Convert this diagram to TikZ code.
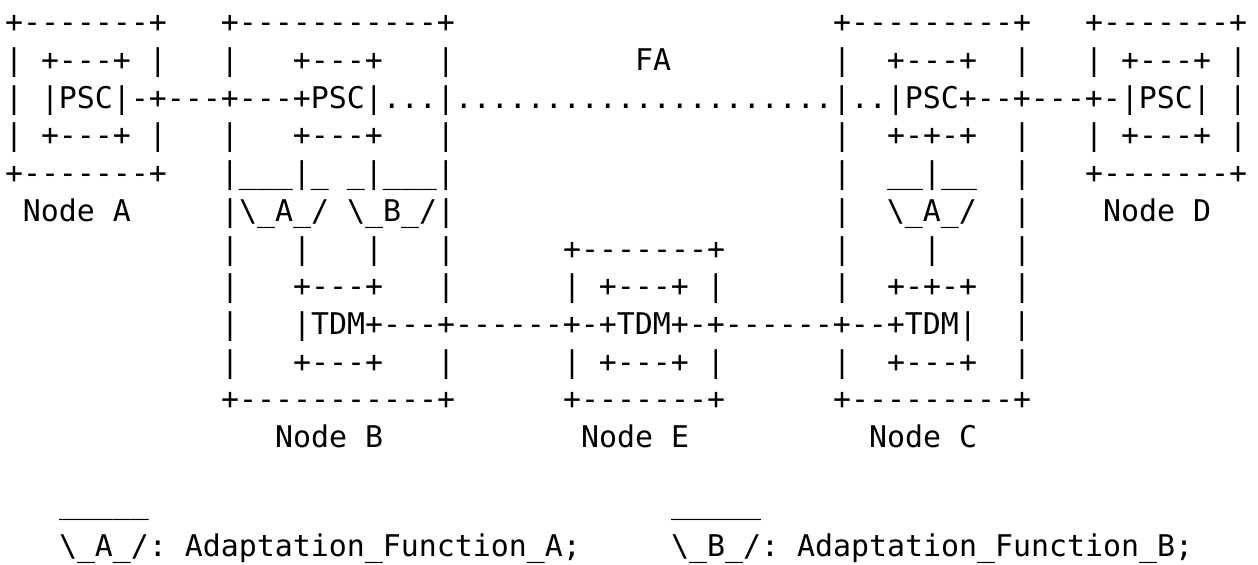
\documentclass[tikz,border=0pt]{standalone}
\usepackage{fontspec}
\setmonofont{DejaVu Sans Mono}
\newlength{\colw}
\setlength{\colw}{9pt}
\newcommand{\colgap}[1]{\hspace*{#1\colw}}
\newcommand{\bsl}{\textbackslash}
\frenchspacing

\begin{document}
\begin{tikzpicture}[x=\colw,y=-18.85pt,shift={(2.5pt,-16.4pt)},
                    asciirow/.style={anchor=base west,inner sep=0pt,outer sep=0pt,
                                     font=\ttfamily\fontsize{14.95pt}{18.85pt}\selectfont}]
  \path[use as bounding box] (-2.5pt,16.4pt) rectangle ++(629pt,-282pt);

  % boxes and links, one node per text row
  \node (row0) [asciirow] at (0,0) {+-------+\colgap{3}+-----------+\colgap{21}+---------+\colgap{3}+-------+};
  \node (row1) [asciirow] at (0,1) {|\colgap{1}+---+\colgap{1}|\colgap{3}|\colgap{3}+---+\colgap{3}|\colgap{10}FA\colgap{9}|\colgap{2}+---+\colgap{2}|\colgap{3}|\colgap{1}+---+\colgap{1}|};
  \node (row2) [asciirow] at (0,2) {|\colgap{1}|PSC|-+---+---+PSC|...|.....................|..|PSC+--+---+-|PSC|\colgap{1}|};
  \node (row3) [asciirow] at (0,3) {|\colgap{1}+---+\colgap{1}|\colgap{3}|\colgap{3}+---+\colgap{3}|\colgap{21}|\colgap{2}+-+-+\colgap{2}|\colgap{3}|\colgap{1}+---+\colgap{1}|};
  \node (row4) [asciirow] at (0,4) {+-------+\colgap{3}|\_\_\_|\_\colgap{1}\_|\_\_\_|\colgap{21}|\colgap{2}\_\_|\_\_\colgap{2}|\colgap{3}+-------+};
  \node (row5) [asciirow] at (1,5) {Node~A\colgap{5}|\bsl\_A\_/\colgap{1}\bsl\_B\_/|\colgap{21}|\colgap{2}\bsl\_A\_/\colgap{2}|\colgap{4}Node~D};
  \node (row6) [asciirow] at (12,6) {|\colgap{3}|\colgap{3}|\colgap{3}|\colgap{6}+-------+\colgap{6}|\colgap{4}|\colgap{4}|};
  \node (row7) [asciirow] at (12,7) {|\colgap{3}+---+\colgap{3}|\colgap{6}|\colgap{1}+---+\colgap{1}|\colgap{6}|\colgap{2}+-+-+\colgap{2}|};
  \node (row8) [asciirow] at (12,8) {|\colgap{3}|TDM+---+------+-+TDM+-+------+--+TDM|\colgap{2}|};
  \node (row9) [asciirow] at (12,9) {|\colgap{3}+---+\colgap{3}|\colgap{6}|\colgap{1}+---+\colgap{1}|\colgap{6}|\colgap{2}+---+\colgap{2}|};
  \node (row10) [asciirow] at (12,10) {+-----------+\colgap{6}+-------+\colgap{6}+---------+};
  \node (row11) [asciirow] at (15,11) {Node~B\colgap{11}Node~E\colgap{10}Node~C};

  % legend
  \node (row13) [asciirow] at (3,12.75) {\_\_\_\_\_\colgap{29}\_\_\_\_\_};
  \node (row14) [asciirow] at (3,13.88) {\bsl\_A\_/:~Adaptation\_Function\_A;\colgap{5}\bsl\_B\_/:~Adaptation\_Function\_B;};
\end{tikzpicture}
\end{document}
